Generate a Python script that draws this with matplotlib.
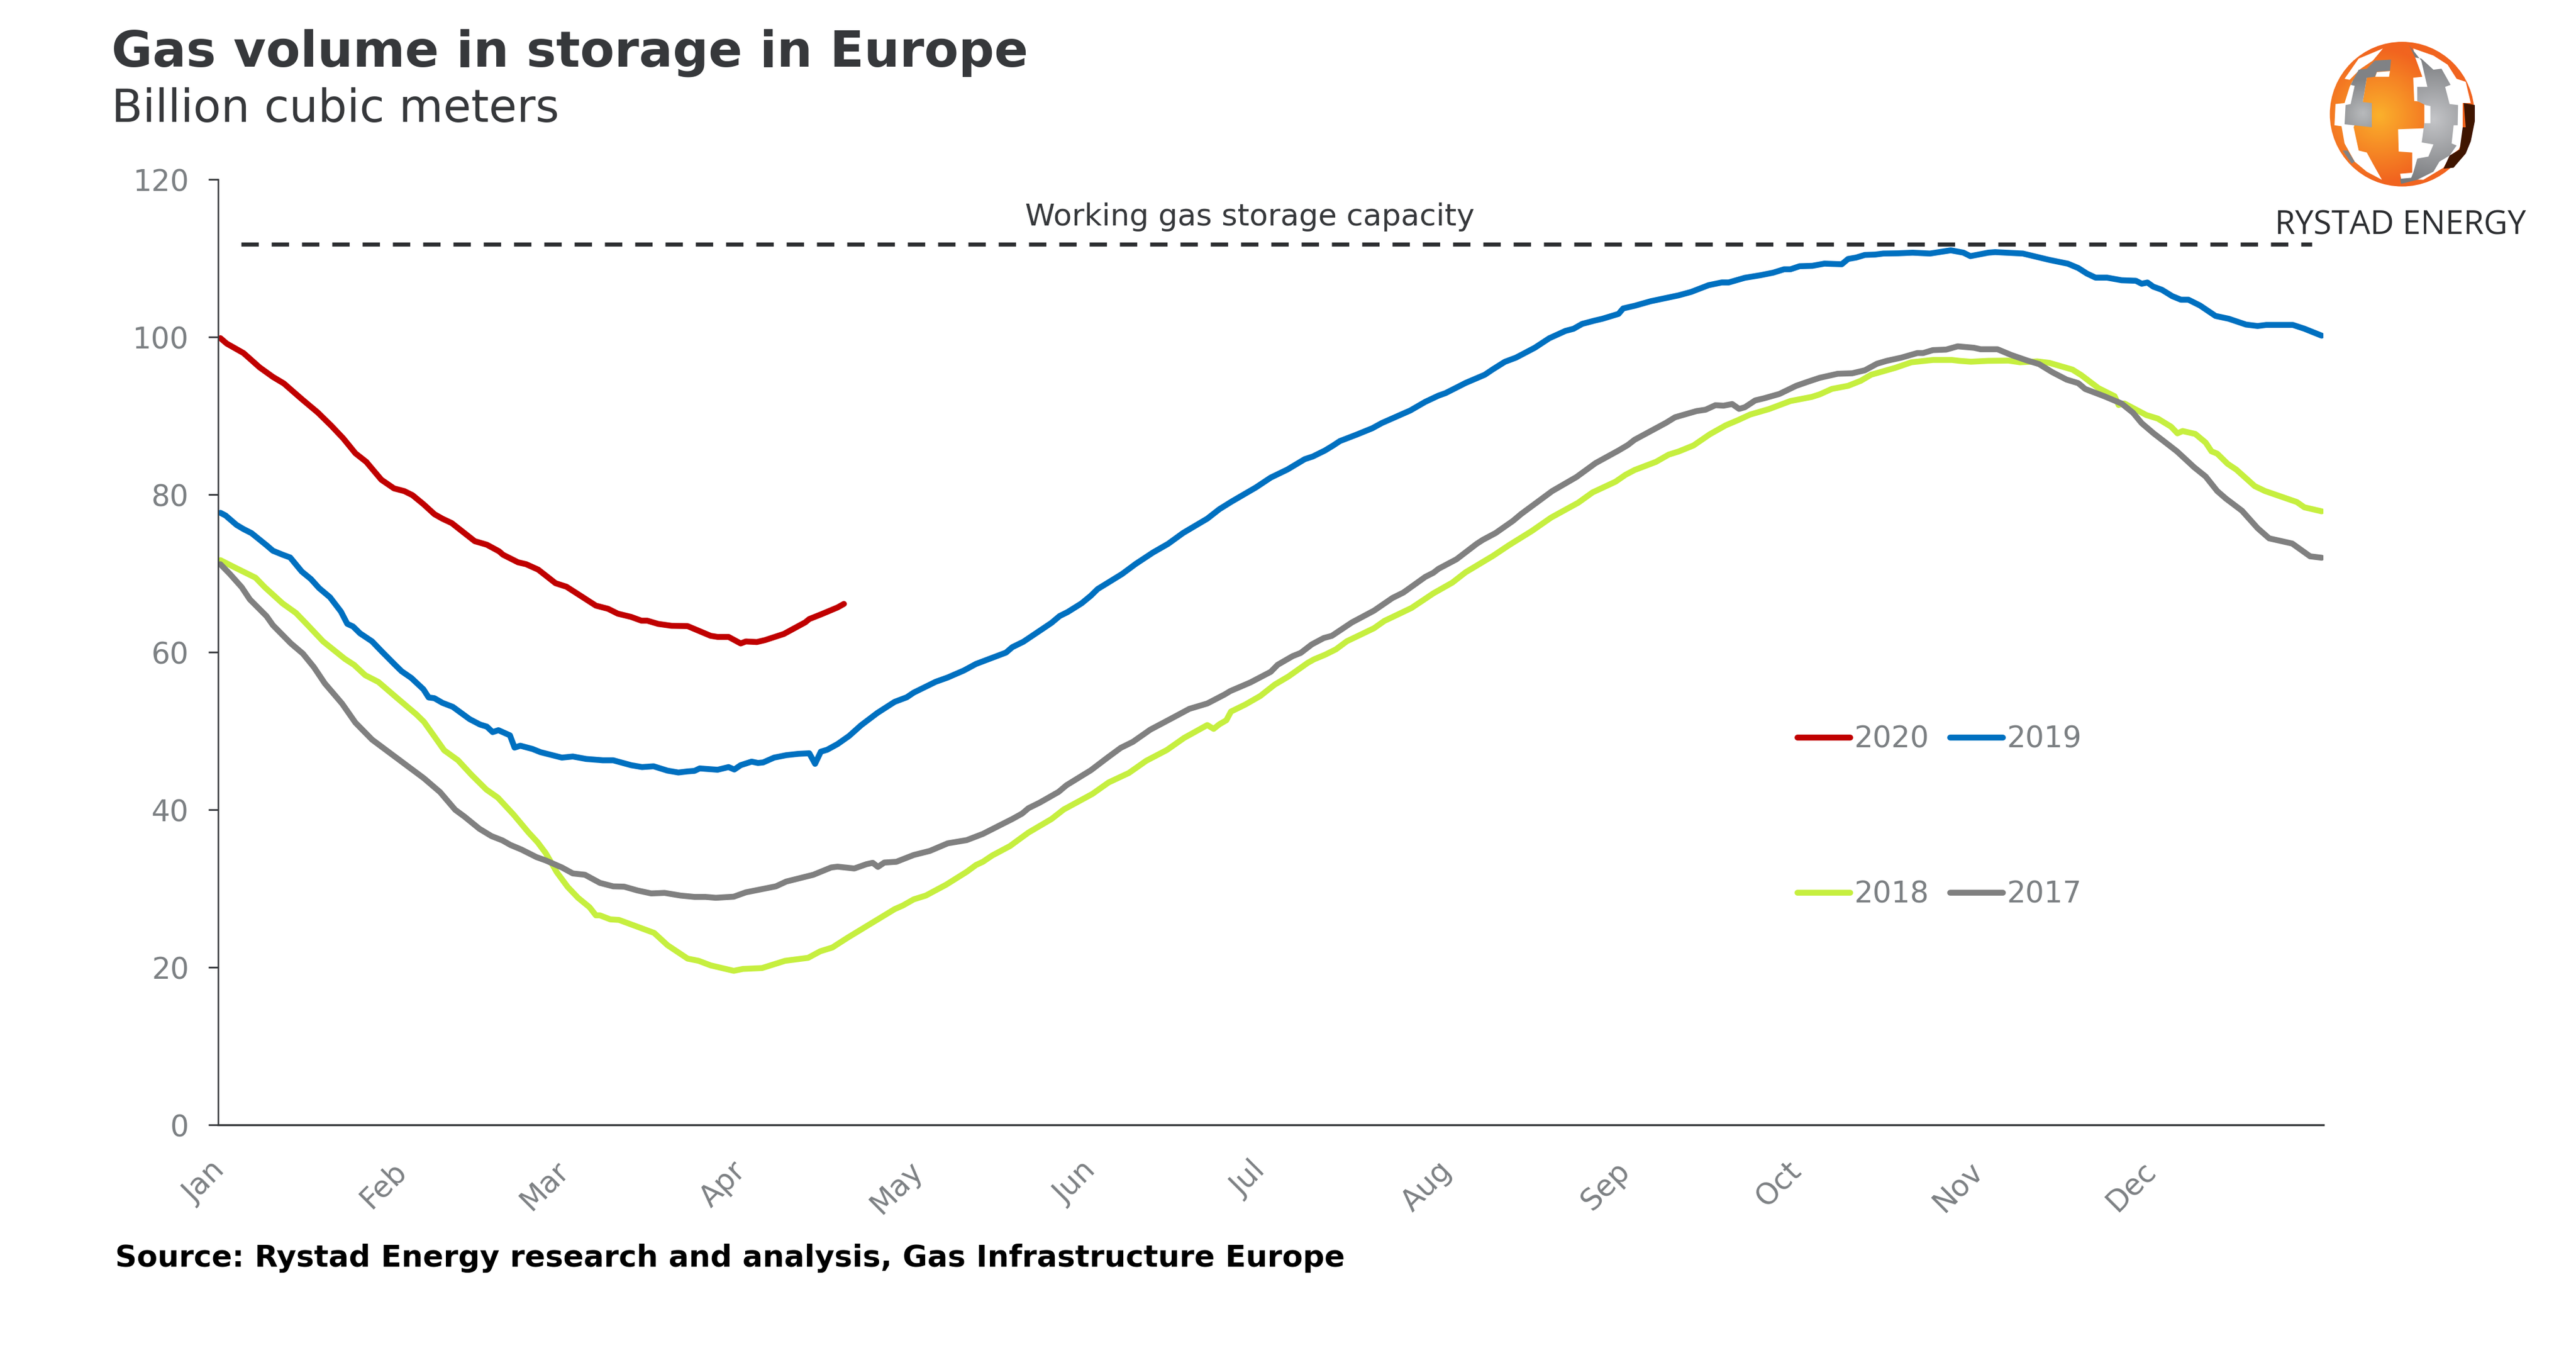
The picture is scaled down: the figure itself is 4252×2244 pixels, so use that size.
import matplotlib
matplotlib.use('agg')
import matplotlib.pyplot as plt
import matplotlib.transforms as mtransforms
from matplotlib.patches import Polygon, Circle
import numpy as np

W, H = 4252, 2244
DPI = 200

months = ['Jan', 'Feb', 'Mar', 'Apr', 'May', 'Jun', 'Jul', 'Aug', 'Sep', 'Oct', 'Nov', 'Dec']
month_start = [0, 31, 59, 90, 120, 151, 181, 212, 243, 273, 304, 334]
y_ticks = [0, 20, 40, 60, 80, 100, 120]

capacity_days = [4, 363]
capacity_vals = [111.75, 111.75]

# values, (day of year, bcm)
days_2020 = [0.4, 1.5, 4.4, 7.2, 9.5, 11.4, 14.5, 17.3, 19.6, 21.7, 23.8, 25.7, 28.3, 30.5, 32.3, 33.7, 35.6, 37.5,
             38.9, 40.5, 44.5, 46.6, 48.7, 49.4, 52, 53.4, 55.5, 58.5, 60.4, 65.5, 67.6, 69.3, 71.6, 73.4, 74.4, 76.3,
             78.6, 81.4, 85.4, 86.6, 88.5, 90.6, 91.5, 93.4, 94.8, 98.1, 101.8, 102.5, 104.6, 107.4, 108.5]
vals_2020 = [99.85, 99.16, 97.96, 96.14, 94.93, 94.1, 92.12, 90.4, 88.75, 87.13, 85.24, 84.14, 81.88, 80.78, 80.43,
             79.92, 78.78, 77.51, 76.93, 76.38, 74.08, 73.63, 72.8, 72.36, 71.4, 71.16, 70.47, 68.75, 68.3, 65.9,
             65.5, 64.88, 64.47, 63.99, 63.99, 63.58, 63.34, 63.3, 62.07, 61.93, 61.93, 61.1, 61.35, 61.28, 61.52,
             62.31, 63.78, 64.2, 64.81, 65.67, 66.12]

days_2019 = [0.4, 1.3, 3.2, 4.4, 5.8, 8.4, 9.5, 11.2, 12.5, 14.5, 16.1, 17.5, 19.4, 21.3, 22.4, 23.4, 24.6, 26.7, 28.5,
             30.7, 31.8, 33.5, 35.6, 36.5, 37.5, 38.9, 40.7, 43.6, 45.4, 46.6, 47.6, 48.6, 50.6, 51.4, 52.4, 54.5,
             55.9, 59.6, 61.5, 63.8, 66.7, 68.5, 71.6, 73.5, 75.5, 77.9, 79.8, 81.4, 82.6, 83.5, 86.6, 88.5, 89.5,
             90.6, 92.5, 93.6, 94.5, 96.4, 98.5, 100.6, 102.5, 103.5, 104.5, 105.6, 107.4, 109.4, 111.5, 114.3, 117.3,
             119.4, 120.6, 124.4, 126.5, 129.3, 131.4, 133.5, 136.6, 137.7, 139.6, 142.4, 144.5, 145.9, 147.3, 149.7,
             151.3, 152.5, 156.7, 159.1, 162.1, 164.7, 167.3, 171.5, 173.6, 175.7, 179.9, 182.5, 185.4, 188.4, 189.8,
             191.9, 193.3, 194.5, 197.3, 200.1, 201.8, 206.7, 209.3, 211.6, 212.8, 216.3, 219.6, 221, 223.1, 225,
             228.3, 230.8, 233.6, 235, 236.5, 238.6, 240, 242.8, 243.6, 245.6, 248.4, 253.2, 255.4, 258.4, 260.7,
             261.9, 264.7, 267.5, 269.6, 271.5, 272.6, 274.2, 276.4, 278.5, 281.5, 282.6, 284, 285.5, 287.3, 288.7,
             291.3, 293.8, 296.8, 300.4, 302.6, 303.8, 306.9, 308.1, 312.9, 317.5, 320.7, 322.5, 324, 325.5, 327.5,
             330, 332.5, 333.5, 334.5, 335.5, 337, 338.8, 340.3, 341.6, 343.6, 346.3, 348.6, 351.6, 353.6, 355.1,
             359.7, 361.7, 364.7]
vals_2019 = [77.68, 77.34, 76.14, 75.62, 75.1, 73.56, 72.87, 72.36, 72.01, 70.23, 69.27, 68.13, 66.96, 65.14, 63.59,
             63.25, 62.39, 61.36, 59.99, 58.37, 57.58, 56.72, 55.28, 54.25, 54.15, 53.56, 53.05, 51.5, 50.81, 50.54,
             49.85, 50.09, 49.44, 47.88, 48.12, 47.71, 47.3, 46.61, 46.75, 46.44, 46.27, 46.27, 45.65, 45.41, 45.51,
             44.96, 44.72, 44.86, 44.93, 45.24, 45.07, 45.41, 45.1, 45.65, 46.1, 45.93, 46, 46.61, 46.92, 47.09,
             47.16, 45.82, 47.37, 47.61, 48.33, 49.36, 50.73, 52.28, 53.69, 54.27, 54.86, 56.23, 56.78, 57.67, 58.5,
             59.08, 59.94, 60.63, 61.31, 62.69, 63.72, 64.58, 65.09, 66.19, 67.15, 68.01, 69.9, 71.2, 72.65, 73.74,
             75.12, 76.94, 78.14, 79.1, 80.89, 82.15, 83.18, 84.49, 84.83, 85.59, 86.21, 86.79, 87.58, 88.41, 89.09,
             90.67, 91.77, 92.56, 92.87, 94.17, 95.2, 95.89, 96.85, 97.37, 98.64, 99.84, 100.77, 101.04, 101.66,
             102.07, 102.31, 102.93, 103.62, 103.96, 104.54, 105.28, 105.72, 106.57, 106.92, 106.92, 107.51, 107.85,
             108.16, 108.59, 108.59, 108.98, 109.03, 109.31, 109.23, 109.9, 110.08, 110.41, 110.46, 110.59, 110.62,
             110.7, 110.59, 111, 110.7, 110.26, 110.7, 110.77, 110.59, 109.78, 109.3, 108.75, 108.05, 107.53, 107.53,
             107.2, 107.13, 106.76, 106.91, 106.39, 105.99, 105.18, 104.73, 104.73, 104, 102.67, 102.31, 101.57,
             101.39, 101.53, 101.53, 101.05, 100.17]

days_2018 = [0.4, 3, 6.5, 8.1, 11.2, 13.5, 15.4, 18.2, 22, 23.6, 25.5, 27.8, 30.8, 34.4, 35.7, 39.2, 41.6, 43.9, 46.5,
             48.5, 51.2, 53.8, 55.4, 56.8, 58.7, 60.6, 62.4, 64.4, 65.5, 66.2, 68, 69.5, 71.8, 75.6, 77.9, 81.4, 83.3,
             85.4, 87.8, 89.4, 91, 94.3, 98.3, 102.3, 104.4, 106.5, 109.2, 117.3, 118.7, 120.6, 122.7, 126.2, 129.8,
             131.4, 132.6, 134.2, 137.3, 140.5, 144.5, 146.6, 151.6, 154.4, 157.9, 160.9, 164.5, 167.5, 171.5, 172.6,
             173.6, 174.8, 175.6, 178.1, 180.7, 183.2, 185.6, 188.9, 190, 191.9, 193.8, 195.7, 200.4, 202.2, 206.9,
             210.7, 214, 216.3, 221, 223.8, 227.8, 231.1, 235.8, 238.3, 242.3, 244, 245.6, 249.3, 251.5, 253.2,
             255.8, 258.6, 261.4, 263.5, 265.6, 268.9, 272.6, 276.3, 277.7, 279.8, 282.6, 284.8, 286.6, 290.8, 293.6,
             297.3, 300.6, 301.9, 303.9, 306.9, 310.4, 312.4, 315.4, 317.5, 321.5, 323, 326, 328.8, 329.5, 330.5,
             334.3, 336.3, 338.6, 339.7, 340.6, 342.8, 344.6, 345.6, 346.6, 348.4, 349.9, 353.1, 354.9, 360.4, 361.7,
             364.7]
vals_2018 = [71.67, 70.71, 69.44, 68.23, 66.17, 64.97, 63.53, 61.36, 59.13, 58.37, 57.07, 56.21, 54.32, 52.08, 51.15,
             47.54, 46.27, 44.45, 42.56, 41.53, 39.4, 37.13, 35.86, 34.49, 32.09, 30.2, 28.82, 27.62, 26.59, 26.59,
             26.08, 26.01, 25.39, 24.36, 22.81, 21.1, 20.82, 20.24, 19.83, 19.55, 19.79, 19.9, 20.82, 21.2, 22.03,
             22.51, 23.78, 27.38, 27.83, 28.62, 29.1, 30.47, 32.12, 32.98, 33.39, 34.18, 35.39, 37.1, 38.82, 40.02,
             42.01, 43.46, 44.66, 46.2, 47.58, 49.12, 50.74, 50.26, 50.84, 51.35, 52.45, 53.35, 54.44, 55.88, 56.92,
             58.63, 59.08, 59.66, 60.35, 61.38, 63.03, 63.96, 65.6, 67.46, 68.83, 70.14, 72.2, 73.57, 75.39, 77.07,
             78.96, 80.27, 81.64, 82.5, 83.12, 84.15, 85.07, 85.46, 86.23, 87.64, 88.79, 89.44, 90.15, 90.85, 91.87,
             92.39, 92.72, 93.41, 93.8, 94.44, 95.21, 96.09, 96.79, 97.08, 97.08, 96.97, 96.86, 96.97, 97, 96.79, 96.9,
             96.71, 95.86, 95.17, 93.51, 92.48, 91.37, 91.56, 90.09, 89.64, 88.61, 87.77, 88.06, 87.69, 86.59, 85.49,
             85.19, 83.9, 83.17, 81.07, 80.44, 79.05, 78.38, 77.87]

days_2017 = [0.4, 2, 4.1, 5.5, 8.4, 9.5, 12.6, 14.7, 16.6, 18.5, 21.5, 23.8, 26.7, 35.7, 38.5, 41.1, 42.7, 45.3, 47.4,
             49.3, 50.7, 52.6, 55.2, 56.8, 59.6, 61.5, 63.6, 66.2, 68.5, 70.4, 72.7, 75.1, 77.4, 80.2, 82.6, 84.5,
             86.3, 89.4, 91.5, 94.8, 96.7, 98.5, 103.2, 106.3, 107.4, 110.3, 112.4, 113.5, 114.4, 115.5, 117.6, 120.6,
             123.4, 126.5, 129.8, 132.6, 137.7, 139.4, 140.5, 142.4, 145.7, 147.1, 151.3, 154.4, 156.5, 158.6, 161.6,
             164, 168.4, 171.5, 174.5, 175.5, 179, 182.5, 183.7, 186.3, 187.7, 189.6, 191.7, 193.1, 196.6, 200.4,
             203.6, 205.5, 209.3, 210.7, 211.6, 214.7, 218.2, 219.3, 221.5, 224.5, 225.9, 231.3, 235.5, 238.8, 242.8,
             244.4, 245.6, 251, 252.6, 256.3, 257.9, 259.6, 261, 262.5, 263.7, 264.7, 266.5, 268, 270.7, 273.6, 275.6,
             277.7, 280.8, 283.3, 285.5, 287.6, 289.3, 291.8, 294.6, 295.6, 297.3, 299.6, 301.6, 304.4, 305.6, 308.5,
             310.9, 313.7, 315.7, 318, 320.5, 322.5, 323.7, 327, 330, 332, 333.5, 335.5, 339.6, 342.6, 344.6, 346.6,
             348.1, 350.9, 353.6, 355.6, 359.6, 362.7, 364.7]
vals_2017 = [71.15, 69.95, 68.23, 66.69, 64.56, 63.42, 61.12, 59.81, 58.1, 56.03, 53.46, 51.05, 48.89, 43.98, 42.22,
             39.99, 39.13, 37.58, 36.65, 36.1, 35.52, 34.94, 33.98, 33.56, 32.67, 31.91, 31.74, 30.71, 30.27, 30.23,
             29.75, 29.37, 29.44, 29.1, 28.93, 28.93, 28.82, 28.96, 29.51, 29.99, 30.27, 30.88, 31.74, 32.67, 32.77,
             32.54, 33.08, 33.26, 32.74, 33.29, 33.39, 34.25, 34.77, 35.73, 36.14, 36.93, 38.82, 39.51, 40.19, 40.88,
             42.25, 43.11, 45, 46.72, 47.85, 48.61, 50.15, 51.08, 52.8, 53.48, 54.62, 55.06, 56.16, 57.5, 58.39, 59.49,
             59.9, 60.97, 61.79, 62.07, 63.78, 65.26, 66.87, 67.56, 69.55, 70.07, 70.58, 71.78, 73.74, 74.26, 75.12,
             76.66, 77.52, 80.44, 82.22, 83.98, 85.59, 86.28, 86.96, 89.09, 89.81, 90.59, 90.77, 91.34, 91.28, 91.49,
             90.87, 91.08, 91.95, 92.21, 92.77, 93.8, 94.31, 94.82, 95.33, 95.39, 95.77, 96.6, 96.97, 97.37, 97.96,
             97.96, 98.33, 98.4, 98.81, 98.63, 98.44, 98.44, 97.71, 97, 96.56, 95.53, 94.58, 94.14, 93.4, 92.48, 91.56,
             90.38, 89.06, 87.81, 85.49, 83.46, 82.28, 80.44, 79.49, 77.94, 75.73, 74.44, 73.78, 72.16, 71.98]

C_2020 = '#c00000'
C_2019 = '#0070c0'
C_2018 = '#c6ef3f'
C_2017 = '#808080'
C_TICK = '#7c8083'
C_DARK = '#36383b'


def fx(px):
    return px / W


def fy(py):
    return 1 - py / H


plt.rcParams['font.family'] = ['DejaVu Sans']
fig = plt.figure(figsize=(W / DPI, H / DPI), dpi=DPI)
ax = fig.add_axes([fx(360), fy(1856), fx(3835 - 360), (1856 - 296) / H])

line_style = dict(lw=3.5, solid_capstyle='round', solid_joinstyle='round')
l18, = ax.plot(days_2018, vals_2018, color=C_2018, label='2018', **line_style)
l17, = ax.plot(days_2017, vals_2017, color=C_2017, label='2017', **line_style)
l19, = ax.plot(days_2019, vals_2019, color=C_2019, label='2019', **line_style)
l20, = ax.plot(days_2020, vals_2020, color=C_2020, label='2020', **line_style)
ax.plot(capacity_days, capacity_vals, color='#2b2d30', lw=2.4, dashes=(4.3, 3.2))

ax.set_xlim(0, 365)
ax.set_ylim(0, 120)
ax.set_yticks(y_ticks)
ax.set_xticks(month_start)
ax.set_xticklabels(months, rotation=45, ha='center', va='top')
ax.tick_params(axis='x', length=0, pad=18.5, labelsize=17.5, labelcolor=C_TICK)
ax.tick_params(axis='y', length=5.8, width=1, color=C_DARK, pad=11.5, labelsize=17.5, labelcolor=C_TICK)
shift = mtransforms.ScaledTranslation(-23 / DPI, 0, fig.dpi_scale_trans)
for lab in ax.get_xticklabels():
    lab.set_transform(lab.get_transform() + shift)

for side in ['top', 'right']:
    ax.spines[side].set_visible(False)
ax.spines['left'].set_linewidth(0.9)
ax.spines['left'].set_color(C_DARK)
ax.spines['bottom'].set_linewidth(1.2)
ax.spines['bottom'].set_color(C_DARK)

leg = ax.legend(handles=[l20, l18, l19, l17], ncols=2, frameon=False, fontsize=17.5, labelcolor=C_TICK,
                loc='upper left', bbox_to_anchor=(fx(2967), fy(1196)), bbox_transform=fig.transFigure,
                borderpad=0, borderaxespad=0, handlelength=1.78, handletextpad=0.14, columnspacing=0.72,
                labelspacing=4.27)

fig.text(fx(184), fy(87), 'Gas volume in storage in Europe', fontsize=29.7, fontweight='bold', color='#36383b',
         va='center', ha='left')
fig.text(fx(184), fy(181), 'Billion cubic meters', fontsize=27, color='#36383b', va='center', ha='left')
fig.text(fx(190), fy(2076), 'Source: Rystad Energy research and analysis, Gas Infrastructure Europe', fontsize=17.9,
         fontweight='bold', color='black', va='center', ha='left')
fig.text(fx(1692), fy(358), 'Working gas storage capacity', fontsize=18, color='#36383b', va='center', ha='left')
fig.text(fx(3755), fy(372), 'RYSTAD ENERGY', fontsize=19.5, family='Open Sans', color='#2b2d30', va='center', ha='left')

# logo, drawn in the pixel frame of a 3x crop of that corner
logo = fig.add_axes([fx(3750), fy(450), fx(502), 450 / H])
logo.set_xlim(0, 1506)
logo.set_ylim(1350, 0)
logo.axis('off')
cx, cy, r = 645, 565, 358


def radial(c0, c1, x0, y0, radius):
    yy, xx = np.mgrid[0:1350:4, 0:1506:4]
    t = np.clip(np.hypot(xx - x0, yy - y0) / radius, 0, 1)[..., None]
    return np.array(matplotlib.colors.to_rgb(c0)) * (1 - t) + np.array(matplotlib.colors.to_rgb(c1)) * t


orange = logo.imshow(radial('#fbb12c', '#f1641f', 530, 570, 330), extent=(0, 1506, 1350, 0), aspect='auto', zorder=0)
orange.set_clip_path(Circle((cx, cy), r, transform=logo.transData))

white_parts = [
    [(550, 240), (430, 290), (360, 390), (385, 395), (440, 340), (500, 300)],
    [(385, 430), (360, 510), (315, 515), (310, 620), (345, 625), (360, 710), (410, 800), (470, 850), (545, 890),
     (500, 810), (470, 755), (430, 745), (405, 630), (450, 505), (470, 385), (400, 400)],
    [(700, 240), (800, 275), (870, 320), (915, 390), (960, 405), (985, 510), (945, 510), (945, 630), (960, 630),
     (945, 700), (925, 740), (885, 770), (850, 830), (750, 890), (640, 885), (635, 860), (695, 855), (695, 755),
     (628, 750), (625, 640), (755, 635), (755, 505), (705, 500), (700, 385), (745, 380), (710, 285)],
]
for pts in white_parts:
    logo.add_patch(Polygon(pts, fc='white', ec='none', zorder=1))
logo.add_patch(Polygon([(950, 510), (1005, 520), (1005, 600), (985, 700), (960, 760), (900, 830), (850, 835),
                        (880, 770), (930, 740), (945, 630), (960, 630)], fc='#3f1500', ec='none', zorder=2))

gray_parts = [
    [(590, 295), (585, 350), (520, 355), (510, 380), (470, 385), (450, 505), (495, 510), (495, 630), (360, 615),
     (365, 520), (390, 515), (410, 425), (390, 420), (430, 345), (470, 340), (510, 300)],
    [(680, 225), (710, 285), (740, 290), (800, 345), (840, 340), (885, 420), (858, 430), (880, 515), (922, 520),
     (920, 620), (900, 620), (890, 710), (915, 720), (880, 770), (830, 800), (800, 850), (720, 890), (640, 910),
     (635, 885), (690, 880), (700, 855), (720, 785), (775, 775), (800, 715), (742, 705), (755, 610), (785, 610),
     (785, 525), (760, 520), (720, 500), (720, 430), (770, 430), (740, 300)],
    [(350, 745), (375, 745), (410, 800), (395, 810)],
]
for pts in gray_parts:
    colours = radial('#c4c5c8', '#77797c', 800, 590, 330) if pts[0][0] > 600 and pts[0][1] < 300 \
        else radial('#b8babc', '#808285', 450, 560, 170)
    img = logo.imshow(colours, extent=(0, 1506, 1350, 0), aspect='auto', zorder=3)
    img.set_clip_path(Polygon(pts, transform=logo.transData))
logo.add_patch(Polygon([(520, 357), (585, 352), (580, 380), (512, 380)], fc='white', ec='none', zorder=4))

fig.savefig('out.png', dpi=DPI, facecolor='white')
